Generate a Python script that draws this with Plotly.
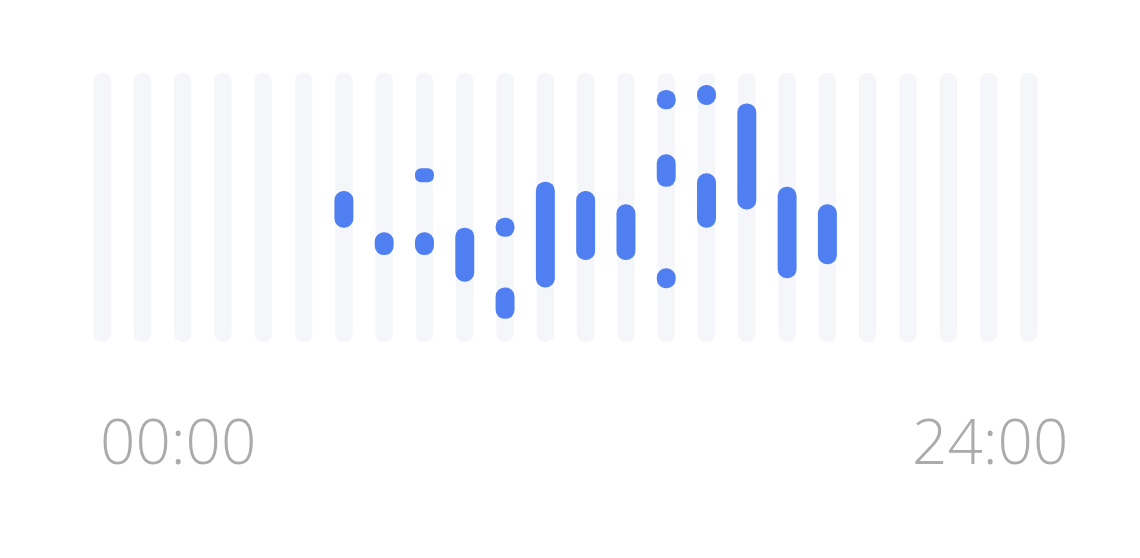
import plotly.graph_objects as go

# 24 hourly slots
hours = list(range(24))

# active segments: (hour, start value, end value) on a 0-100 scale
seg_hour  = [6,    7,    8,    8,    9,    10,   10,   11,   12,   13,   14,   14,   14,   15,   15,   16,   17,   18]
seg_start = [42.5, 32.3, 59.4, 32.3, 22.4, 39.1, 8.6,  20.3, 30.5, 30.5, 86.5, 57.7, 20.0, 88.1, 42.5, 49.3, 23.7, 28.9]
seg_end   = [56.1, 40.8, 64.6, 40.8, 42.5, 46.2, 20.3, 59.6, 56.1, 51.2, 93.7, 69.8, 27.4, 95.5, 62.7, 88.7, 57.7, 51.2]

scale_min, scale_max = 0, 100
start_label = "00:00"
end_label = "24:00"

fig = go.Figure()

# background track for each hour
fig.add_trace(go.Bar(
    x=hours,
    y=[scale_max - scale_min] * len(hours),
    base=[scale_min] * len(hours),
    width=0.43,
    marker=dict(color="#f5f6fa", cornerradius=9, line=dict(width=0)),
    hoverinfo="skip",
    showlegend=False,
))

# active segments
fig.add_trace(go.Bar(
    x=seg_hour,
    y=[e - s for s, e in zip(seg_start, seg_end)],
    base=seg_start,
    width=0.47,
    marker=dict(color="#4f7ff0", cornerradius=10, line=dict(width=0)),
    showlegend=False,
))

label_font = dict(family="Open Sans", size=62, color="#ababab", weight=300)

fig.update_layout(
    width=1140, height=558,
    margin=dict(l=74, r=99, t=65, b=224),
    paper_bgcolor="white", plot_bgcolor="white",
    barmode="overlay",
    xaxis=dict(range=[-0.5, 23.5], visible=False, fixedrange=True),
    yaxis=dict(range=[scale_min, scale_max], visible=False, fixedrange=True),
    annotations=[
        dict(text=start_label, xref="paper", yref="paper", x=(98 - 82) / 967, y=-0.365,
             xanchor="left", yanchor="middle", showarrow=False, font=label_font),
        dict(text=end_label, xref="paper", yref="paper", x=(1070 - 82) / 967, y=-0.365,
             xanchor="right", yanchor="middle", showarrow=False, font=label_font),
    ],
)

fig.write_html("out.html")
